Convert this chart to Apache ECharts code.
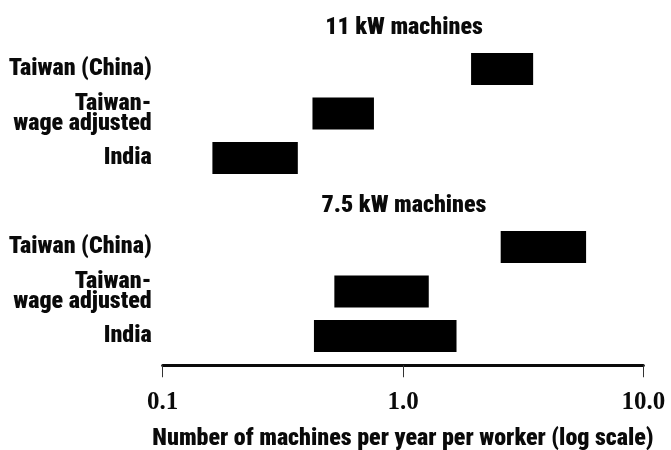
<!DOCTYPE html>
<html>
<head>
<meta charset="utf-8">
<script src="https://cdn.jsdelivr.net/npm/echarts@6/dist/echarts.min.js"></script>
<style>
  html, body { margin: 0; padding: 0; background: #fff; }
  #chart { width: 671px; height: 450px; }
</style>
</head>
<body>
<div id="chart"></div>
<script>
// Machine classes (panel headings) and the economies compared in each
const groupTitles = ['11 kW machines', '7.5 kW machines'];
const economies = ['Taiwan (China)', 'Taiwan-\nwage adjusted', 'India'];

// Ranges of machines per year per worker, lower and upper bounds
const low11kW = [1.92, 0.42, 0.161];
const high11kW = [3.48, 0.757, 0.365];
const low7_5kW = [2.55, 0.518, 0.426];
const high7_5kW = [5.78, 1.28, 1.67];

// Log-scale tick labels
const tickLabels = { 0.1: '0.1', 1: '1.0', 10: '10.0' };
const xAxisTitle = 'Number of machines per year per worker (log scale)';

// Rows: a heading row followed by one row per economy, for each group
const rows = [];
const bars = [];
const headings = [];
const groupLows = [low11kW, low7_5kW];
const groupHighs = [high11kW, high7_5kW];
groupTitles.forEach(function (title, g) {
  headings.push([rows.length, title]);
  rows.push(title);
  economies.forEach(function (name, i) {
    bars.push([rows.length, groupLows[g][i], groupHighs[g][i]]);
    rows.push(name);
  });
});
const headingSet = new Set(headings.map(function (h) { return h[0]; }));

const FONT = "'Liberation Sans Narrow', 'Roboto Condensed', 'DejaVu Sans Condensed', sans-serif";
const INK = '#0a0a0a';

const chart = echarts.init(document.getElementById('chart'), null, { renderer: 'canvas' });
chart.setOption({
  animation: false,
  backgroundColor: '#fff',
  grid: {
    left: 162.7, right: 27.7, top: 2.25, height: 356,
    containLabel: false, outerBoundsMode: 'none'
  },
  xAxis: {
    type: 'log',
    logBase: 10,
    min: 0.1,
    max: 10,
    offset: 7,
    splitLine: { show: false },
    minorTick: { show: false },
    axisLine: { show: true, onZero: false, lineStyle: { color: INK, width: 3 } },
    axisTick: { show: true, length: 12, lineStyle: { color: '#333', width: 1 } },
    axisLabel: {
      margin: 25,
      color: INK,
      fontFamily: "'Liberation Serif', 'DejaVu Serif', serif",
      fontWeight: 'bold',
      fontSize: 25,
      formatter: function (v) {
        const key = Math.round(v * 1000) / 1000;
        return tickLabels[key] !== undefined ? tickLabels[key] : '';
      }
    },
    name: xAxisTitle,
    nameLocation: 'middle',
    nameGap: 62,
    nameTextStyle: { color: INK, fontFamily: FONT, fontWeight: 900, fontSize: 24 }
  },
  yAxis: {
    type: 'category',
    inverse: true,
    data: rows,
    axisLine: { show: false },
    axisTick: { show: false },
    splitLine: { show: false },
    axisLabel: {
      margin: 11,
      color: INK,
      fontFamily: FONT,
      fontWeight: 900,
      fontSize: 24,
      lineHeight: 20,
      align: 'right',
      formatter: function (value, index) {
        return headingSet.has(index) ? '' : value;
      }
    }
  },
  series: [
    {
      type: 'custom',
      name: 'ranges',
      data: bars,
      encode: { x: [1, 2], y: 0 },
      renderItem: function (params, api) {
        const cat = api.value(0);
        const a = api.coord([api.value(1), cat]);
        const b = api.coord([api.value(2), cat]);
        const h = 32;
        return {
          type: 'rect',
          shape: { x: a[0], y: a[1] - h / 2, width: b[0] - a[0], height: h },
          style: { fill: '#000' }
        };
      }
    },
    {
      type: 'custom',
      name: 'headings',
      data: headings.map(function (h) { return [h[0], 1]; }),
      encode: { x: 1, y: 0 },
      renderItem: function (params, api) {
        const p = api.coord([1, api.value(0)]);
        return {
          type: 'text',
          x: p[0] + 1,
          y: p[1] + 3,
          style: {
            text: headings[params.dataIndex][1],
            fill: INK,
            font: '900 24px ' + FONT,
            textAlign: 'center',
            textVerticalAlign: 'middle'
          }
        };
      }
    }
  ]
});
</script>
</body>
</html>
